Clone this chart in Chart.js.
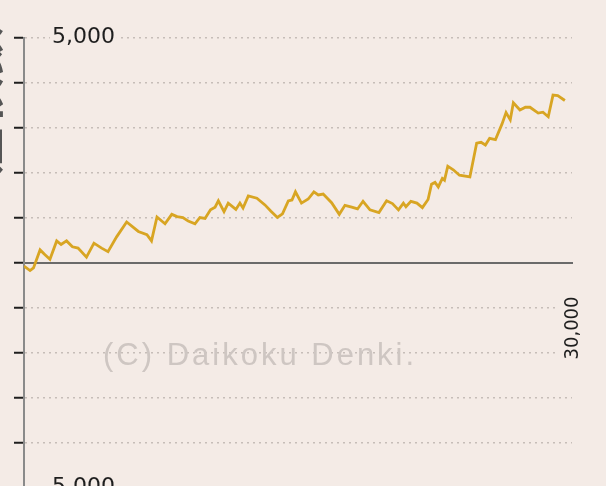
<!DOCTYPE html>
<html>
<head>
<meta charset="utf-8">
<script src="https://cdn.jsdelivr.net/npm/chart.js@4.4.1/dist/chart.umd.min.js"></script>
<style>
  html, body { margin: 0; padding: 0; background: #f4ebe6; overflow: hidden; }
  .graph { position: relative; width: 606px; height: 510px; }
</style>
</head>
<body>
<div class="graph"><canvas id="slump"></canvas></div>
<script>
// games played (x) and medal difference (y)
const games = [0, 330, 520, 880, 1150, 1420, 1790, 2030, 2330, 2650,
  2960, 3420, 3830, 4250, 4600, 5070, 5620, 6260, 6730, 6980,
  7280, 7720, 8090, 8380, 8700, 8990, 9360, 9630, 9910, 10210,
  10460, 10640, 10950, 11180, 11600, 11820, 11990, 12280, 12750, 13190,
  13520, 13870, 14150, 14470, 14670, 14860, 15190, 15560, 15870, 16110,
  16380, 16840, 17260, 17570, 17940, 18260, 18560, 18940, 19430, 19850,
  20170, 20500, 20770, 20910, 21180, 21510, 21810, 22120, 22310, 22500,
  22680, 22900, 23020, 23200, 23500, 23840, 24410, 24780, 25020, 25260,
  25490, 25810, 26170, 26390, 26620, 26790, 27150, 27450, 27700, 28150,
  28410, 28700, 28960, 29220, 29610];
const medals = [-80, -180, -120, 280, 170, 70, 480, 400, 480, 350,
  320, 120, 430, 320, 240, 570, 900, 690, 620, 480,
  1010, 860, 1070, 1020, 1000, 920, 860, 1000, 980, 1170,
  1230, 1370, 1130, 1320, 1180, 1320, 1210, 1480, 1430, 1280,
  1140, 1000, 1080, 1370, 1390, 1570, 1320, 1410, 1570, 1500,
  1520, 1330, 1070, 1270, 1230, 1190, 1360, 1170, 1110, 1370,
  1310, 1170, 1320, 1240, 1360, 1320, 1220, 1400, 1740, 1780,
  1680, 1870, 1830, 2140, 2060, 1940, 1900, 2650, 2670, 2610,
  2760, 2730, 3080, 3330, 3170, 3550, 3390, 3450, 3450, 3320,
  3340, 3240, 3720, 3710, 3600];

const yLabelValues = [5000, -5000];
const yLabelTexts = ['5,000', '-5,000'];
const xLabelValues = [30000];
const xLabelTexts = ['30,000'];
const sideTitle = '差枚数';
const watermark = '(C) Daikoku Denki.';

const BG = '#f4ebe6';

const watermarkPlugin = {
  id: 'watermark',
  beforeDatasetsDraw(chart) {
    const ctx = chart.ctx;
    ctx.save();
    ctx.font = '31px "Liberation Sans", Arial, sans-serif';
    ctx.letterSpacing = '3px';
    ctx.fillStyle = '#cec6c2';
    ctx.textBaseline = 'alphabetic';
    ctx.fillText(watermark, 103, 365);
    ctx.restore();
  }
};

// axis title, mostly cut off by the left edge
const sideTitlePlugin = {
  id: 'sideTitle',
  afterDraw(chart) {
    const ctx = chart.ctx;
    ctx.save();
    ctx.translate(-2, 176);
    ctx.rotate(-Math.PI / 2);
    ctx.font = 'bold 50px "Noto Sans CJK JP"';
    ctx.fillStyle = '#555';
    ctx.fillText(sideTitle, 0, 0);
    ctx.restore();
  }
};

new Chart(document.getElementById('slump'), {
  type: 'line',
  data: {
    datasets: [{
      data: games.map((g, i) => ({ x: g, y: medals[i] })),
      borderColor: '#d8a523',
      borderWidth: 2.8,
      pointRadius: 0,
      tension: 0,
      fill: false
    }]
  },
  options: {
    responsive: true,
    maintainAspectRatio: false,
    animation: false,
    devicePixelRatio: 1,
    layout: { padding: { left: 0, right: 34, top: 37.5, bottom: 22.5 } },
    plugins: {
      legend: { display: false },
      tooltip: { enabled: false }
    },
    scales: {
      x: {
        type: 'linear',
        min: 0,
        max: 30000,
        position: { y: 0 },
        afterBuildTicks: s => { s.ticks = xLabelValues.map(v => ({ value: v })); },
        afterFit: s => { s.paddingLeft = 0; s.paddingRight = 0; },
        grid: { display: false },
        border: { color: '#6a6a6a', width: 2 },
        ticks: {
          autoSkip: false,
          minRotation: 90,
          maxRotation: 90,
          padding: 26,
          labelOffset: -11,
          font: { family: 'DejaVu Sans Condensed', size: 20 },
          color: '#1e1e1e',
          showLabelBackdrop: true,
          backdropColor: BG,
          backdropPadding: 2,
          callback: v => {
            const i = xLabelValues.indexOf(v);
            return i < 0 ? '' : xLabelTexts[i];
          }
        }
      },
      y: {
        min: -5000,
        max: 5000,
        afterFit: s => { s.width = 24; s.paddingTop = 0; s.paddingBottom = 0; },
        grid: {
          color: c => (c.tick && c.tick.value === 0) ? 'rgba(0,0,0,0)' : '#c6bdb8',
          lineWidth: 1.5,
          tickColor: '#1e1e1e',
          tickWidth: 2,
          tickLength: 10
        },
        border: {
          color: '#8a8a8a',
          width: 2,
          dash: c => c.tick ? [2, 4] : []
        },
        ticks: {
          stepSize: 1000,
          autoSkip: false,
          mirror: true,
          crossAlign: 'far',
          padding: 20,
          font: { family: 'DejaVu Sans', size: 22 },
          color: '#1e1e1e',
          showLabelBackdrop: c => yLabelValues.includes(c.tick && c.tick.value),
          backdropColor: BG,
          backdropPadding: 2,
          callback: v => {
            const i = yLabelValues.indexOf(v);
            return i < 0 ? '' : yLabelTexts[i];
          }
        }
      }
    }
  },
  plugins: [watermarkPlugin, sideTitlePlugin]
});
</script>
</body>
</html>
